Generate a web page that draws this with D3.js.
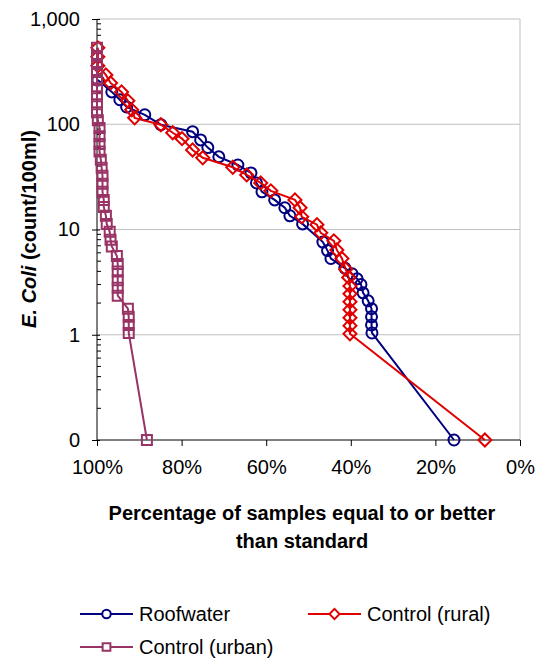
<!DOCTYPE html>
<html>
<head>
<meta charset="utf-8">
<script src="https://cdn.jsdelivr.net/npm/d3@7"></script>
<style>
  body { margin: 0; background: #fff; }
  svg { font-family: "Liberation Sans", Arial, sans-serif; }
</style>
</head>
<body>
<div id="chart"></div>
<script>
// series: [percent of samples, E. coli count]; 0 counts sit on the 0.1 floor (shown as "0")
const seriesNames = ['Roofwater', 'Control (rural)', 'Control (urban)'];
const roofwater = [
  [99.8, 263], [96.5, 203], [94.6, 171], [93.0, 146], [88.7, 123], [84.9, 99],
  [77.4, 85], [75.5, 71], [73.8, 60], [71.2, 49], [66.7, 41], [63.6, 34.5],
  [62.3, 27.7], [61.0, 22.8], [58.0, 19.1], [55.6, 16.1], [54.4, 13.5], [51.4, 11.3],
  [46.6, 7.6], [45.5, 6.3], [44.7, 5.3], [41.4, 4.3], [39.7, 3.8], [38.5, 3.4],
  [37.6, 3.0], [37.1, 2.5], [35.9, 2.1], [35.1, 1.77], [35.1, 1.48], [35.1, 1.24],
  [35.0, 1.04], [15.6, 0.1]
];
const controlRural = [
  [99.8, 532], [99.8, 437], [99.8, 359], [97.9, 294], [96.8, 247], [94.2, 203],
  [92.7, 167], [91.8, 137], [91.1, 115], [84.9, 99], [82.1, 83], [79.9, 73],
  [77.4, 57], [75.0, 48], [67.9, 39], [64.6, 33], [61.3, 27.7], [58.9, 23.3],
  [53.2, 19.1], [52.0, 16.1], [51.6, 13.2], [48.0, 11.1], [47.1, 9.3], [44.0, 7.8],
  [43.3, 6.4], [42.1, 5.3], [41.2, 4.2], [40.5, 3.5], [40.2, 2.9], [40.2, 2.45],
  [40.2, 2.06], [40.2, 1.73], [40.2, 1.45], [40.2, 1.22], [40.2, 1.02], [8.3, 0.1]
];
const controlUrban = [
  [100, 532], [100, 446], [100, 374], [100, 314], [100, 263], [100, 220],
  [100, 185], [100, 155], [100, 130], [99.8, 109], [99.4, 92], [99.4, 77],
  [99.4, 65], [99.4, 55], [99.1, 46], [98.9, 38.6], [98.7, 32.4], [98.7, 27.2],
  [98.7, 22.8], [98.4, 19.1], [98.4, 16.4], [97.9, 13.5], [97.7, 11.3], [97.0, 9.5],
  [96.8, 8.0], [96.5, 6.9], [95.3, 5.6], [95.1, 4.7], [95.1, 4.0], [95.1, 3.3],
  [95.1, 2.8], [95.1, 2.35], [92.7, 1.77], [92.5, 1.48], [92.5, 1.24], [92.5, 1.04],
  [88.2, 0.1]
];
const yTicks = [0.1, 1, 10, 100, 1000];
const xTicks = [100, 80, 60, 40, 20, 0];

const width = 540;
const height = 662;
const margin = { top: 19, right: 20, bottom: 222, left: 97 };

const x = d3.scaleLinear().domain([100, 0]).range([margin.left, width - margin.right]);
const y = d3.scaleLog().domain([0.1, 1000]).range([height - margin.bottom, margin.top]);

const svg = d3.select('#chart').append('svg')
  .attr('width', width)
  .attr('height', height);

// gridlines
svg.append('g')
  .selectAll('line')
  .data(yTicks.slice(1))
  .join('line')
  .attr('x1', x(100)).attr('x2', x(0))
  .attr('y1', d => y(d)).attr('y2', d => y(d))
  .attr('stroke', '#c0c0c0');

// plot area right border
svg.append('line')
  .attr('x1', x(0)).attr('x2', x(0))
  .attr('y1', y(1000)).attr('y2', y(0.1))
  .attr('stroke', '#c0c0c0');

// y axis
const fmt = d3.format(',.0f');
const yAxis = svg.append('g')
  .attr('transform', `translate(${x(100)},0)`)
  .call(d3.axisLeft(y).tickValues(yTicks).tickFormat(fmt).tickSize(5).tickPadding(12));
yAxis.select('.domain').attr('stroke', '#000').attr('d', `M0,${y(0.1)}V${y(1000)}`);
yAxis.selectAll('.tick line').attr('x1', 3);
yAxis.selectAll('text').attr('font-size', 20).attr('fill', '#000');

// minor ticks, inside
const minor = [];
yTicks.slice(0, -1).forEach(t => { for (let k = 2; k < 10; k++) minor.push(t * k); });
svg.append('g')
  .selectAll('line')
  .data(minor)
  .join('line')
  .attr('x1', x(100)).attr('x2', x(100) + 4)
  .attr('y1', d => y(d)).attr('y2', d => y(d))
  .attr('stroke', '#000');

// x axis
const xAxis = svg.append('g')
  .attr('transform', `translate(0,${y(0.1)})`)
  .call(d3.axisBottom(x).tickValues(xTicks).tickFormat(d => d + '%').tickSize(6).tickPadding(14));
xAxis.select('.domain').attr('stroke', '#000').attr('d', `M${x(100)},0H${x(0)}`);
xAxis.selectAll('text').attr('font-size', 20).attr('fill', '#000');

// axis titles
const xt = svg.append('text')
  .attr('text-anchor', 'middle')
  .attr('font-size', 20)
  .attr('font-weight', 'bold');
xt.append('tspan').attr('x', 302).attr('y', 520).text('Percentage of samples equal to or better');
xt.append('tspan').attr('x', 302).attr('y', 548).text('than standard');

const yt = svg.append('text')
  .attr('transform', 'translate(36,229) rotate(-90)')
  .attr('text-anchor', 'middle')
  .attr('font-size', 20)
  .attr('font-weight', 'bold');
yt.append('tspan').attr('font-style', 'italic').text('E. Coli');
yt.append('tspan').text(' (count/100ml)');

// series
const line = d3.line().x(d => x(d[0])).y(d => y(d[1]));
const colors = ['#000080', '#e00000', '#993366'];
const shapes = [d3.symbolCircle, d3.symbolSquare, d3.symbolSquare];
const sizes = [95, 85, 100];
const rotations = [0, 45, 0];
const allSeries = [roofwater, controlRural, controlUrban];

allSeries.forEach((data, i) => {
  const g = svg.append('g');
  g.append('path')
    .datum(data)
    .attr('fill', 'none')
    .attr('stroke', colors[i])
    .attr('stroke-width', 2)
    .attr('d', line);
  g.selectAll('path.pt')
    .data(data)
    .join('path')
    .attr('class', 'pt')
    .attr('d', d3.symbol().type(shapes[i]).size(sizes[i]))
    .attr('transform', d => `translate(${x(d[0])},${y(d[1])}) rotate(${rotations[i]})`)
    .attr('fill', 'none')
    .attr('stroke', colors[i])
    .attr('stroke-width', 2);
});

// legend
const legendPos = [[80, 614], [308, 614], [80, 647]];
seriesNames.forEach((name, i) => {
  const [lx, ly] = legendPos[i];
  const g = svg.append('g').attr('transform', `translate(${lx},${ly})`);
  g.append('line')
    .attr('x1', 0).attr('x2', 53)
    .attr('stroke', colors[i]).attr('stroke-width', 2);
  g.append('path')
    .attr('d', d3.symbol().type(shapes[i]).size(sizes[i] * 0.6))
    .attr('transform', `translate(26.5,0) rotate(${rotations[i]})`)
    .attr('fill', '#fff')
    .attr('stroke', colors[i])
    .attr('stroke-width', 2);
  g.append('text')
    .attr('x', 59).attr('dy', '0.35em')
    .attr('font-size', 20)
    .text(name);
});
</script>
</body>
</html>
